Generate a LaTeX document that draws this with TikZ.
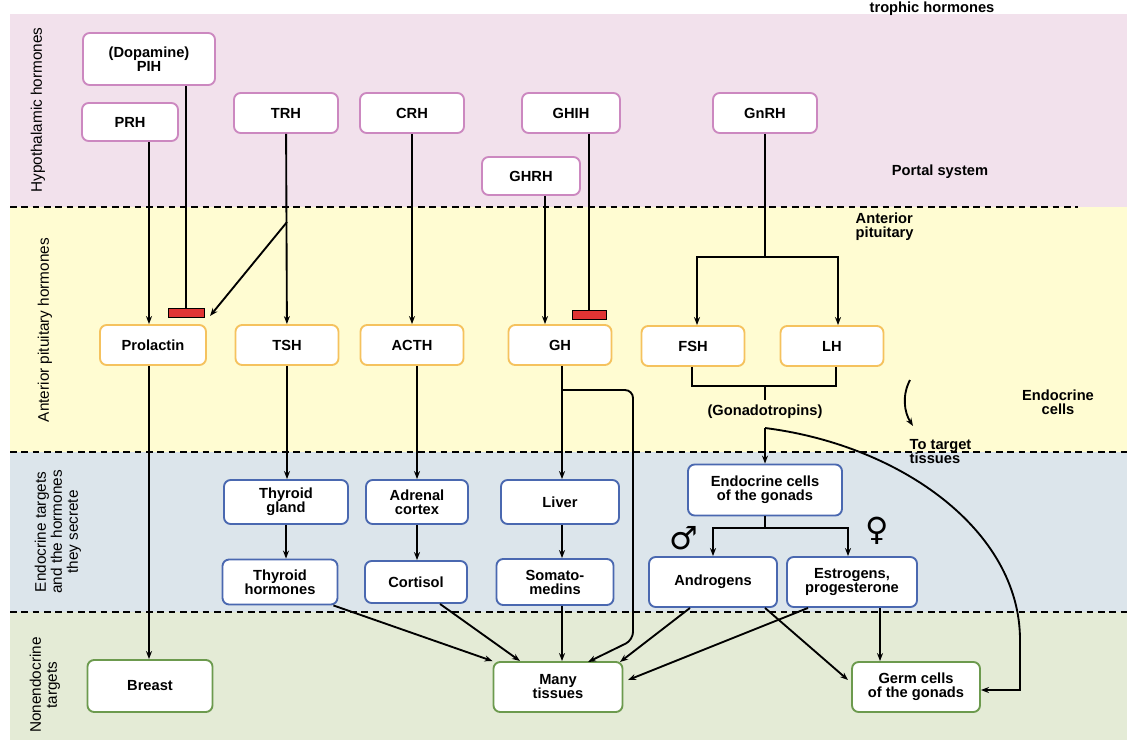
\documentclass[tikz,border=0pt]{standalone}
\usepackage{fontspec}
\setmainfont{Liberation Sans}
\newfontfamily\symfont{DejaVu Sans}
\usetikzlibrary{arrows.meta}
\definecolor{bgpink}{HTML}{F2E1EC}
\definecolor{bgyel}{HTML}{FFFCD2}
\definecolor{bgblue}{HTML}{DCE5EB}
\definecolor{bggreen}{HTML}{E4EBD6}
\definecolor{cpink}{HTML}{CC88C0}
\definecolor{cyel}{HTML}{F5C25E}
\definecolor{cblue}{HTML}{4A68B0}
\definecolor{cgreen}{HTML}{6C9A4E}
\definecolor{cred}{HTML}{E03434}
\begin{document}
\begin{tikzpicture}[x=0.75pt,y=-0.75pt,
  font=\bfseries\fontsize{11}{10.5}\selectfont,
  box/.style={draw, fill=white, rounded corners=5pt, line width=1.4pt, align=center, inner sep=1pt},
  sz/.style 2 args={minimum width=#1*0.75pt, minimum height=#2*0.75pt},
  hy/.style={box, draw=cpink},
  ap/.style={box, draw=cyel},
  et/.style={box, draw=cblue},
  nt/.style={box, draw=cgreen},
  ar/.style={-{Stealth[length=6pt,width=4.5pt]}, line width=1.4pt},
  ln/.style={line width=1.4pt},
  dsh/.style={dashed, dash pattern=on 5pt off 3.5pt, line width=1pt},
  bar/.style={draw=black, fill=cred, line width=0.7pt},
  side/.style={rotate=90, align=center, font=\fontsize{11.5}{12}\selectfont},
  lab/.style={align=center, font=\bfseries\fontsize{11}{10.5}\selectfont}]
\useasboundingbox (0,0) rectangle (1130,750);
\clip (0,0) rectangle (1130,750);
% bands
\fill[bgpink] (10,14) rectangle (1127,207);
\fill[bgyel] (10,207) rectangle (1127,452);
\fill[bgblue] (10,452) rectangle (1127,612);
\fill[bggreen] (10,612) rectangle (1127,740);
\draw[dsh] (10,207) -- (1078,207);
\draw[dsh] (10,452) -- (1127,452);
\draw[dsh] (10,612) -- (1127,612);
% side labels
\node[side] (s1) at (38,110) {Hypothalamic hormones};
\node[side] (s2) at (45,330) {Anterior pituitary hormones};
\node[side] (s3) at (58,532) {Endocrine targets\\and the hormones\\they secrete};
\node[side] (s4) at (45,685) {Nonendocrine\\targets};
% right labels
\node[lab] (t0) at (932,9) {trophic hormones};
\node[lab] (t1) at (940,172) {Portal system};
\node[lab, align=left, anchor=west] (t2) at (851,227) {Anterior\\pituitary};
\node[lab] (t3) at (1058,402) {Endocrine\\cells};
\node[lab, align=left, anchor=west] (t4) at (905,452) {To target\\tissues};
\coordinate (ca) at (910,380);
\coordinate (cb) at (913,426);
\draw[ar] (ca) .. controls (902,395) and (904,412) .. (cb);
% hypothalamic
\node[hy, sz={132}{52}] (pih) at (149,59) {(Dopamine)\\PIH};
\node[hy, sz={96}{38}] (prh) at (130,122) {PRH};
\node[hy, sz={104}{40}] (trh) at (286,113) {TRH};
\node[hy, sz={104}{40}] (crh) at (412,113) {CRH};
\node[hy, sz={98}{40}] (ghih) at (571,113) {GHIH};
\node[hy, sz={98}{38}] (ghrh) at (531,176) {GHRH};
\node[hy, sz={104}{40}] (gnrh) at (765,113) {GnRH};
% pituitary
\node[ap, sz={106}{40}] (prl) at (153,345) {Prolactin};
\node[ap, sz={103}{40}] (tsh) at (287,345) {TSH};
\node[ap, sz={103}{40}] (acth) at (412,345) {ACTH};
\node[ap, sz={103}{40}] (gh) at (560,345) {GH};
\node[ap, sz={103}{40}] (fsh) at (693,346) {FSH};
\node[ap, sz={103}{40}] (lh) at (832,346) {LH};
\node[lab] (gon) at (765,412) {(Gonadotropins)};
% endocrine targets
\node[et, sz={124}{44}] (thg) at (286,502) {Thyroid\\gland};
\node[et, sz={102}{44}] (adr) at (417,502) {Adrenal\\cortex};
\node[et, sz={118}{44}] (liv) at (560,502) {Liver};
\node[et, sz={154}{51}] (egc) at (765,490) {Endocrine cells\\of the gonads};
\node[et, sz={115}{45}] (thh) at (280,582) {Thyroid\\hormones};
\node[et, sz={102}{42}] (cor) at (416,582) {Cortisol};
\node[et, sz={117}{46}] (som) at (555,582) {Somato-\\medins};
\node[et, sz={128}{50}] (and) at (713,582) {Androgens};
\node[et, sz={130}{50}] (est) at (852,582) {Estrogens,\\progesterone};
\node[font=\symfont\fontsize{24}{24}\selectfont] (male) at (684,538) {♂};
\node[font=\symfont\fontsize{24}{24}\selectfont] (fem) at (877,531) {♀};
% nonendocrine
\node[nt, sz={125}{52}] (bre) at (150,686) {Breast};
\node[nt, sz={129}{50}] (many) at (558,687) {Many\\tissues};
\node[nt, sz={128}{50}] (germ) at (916,687) {Germ cells\\of the gonads};
% inhibition bars
\node[bar, minimum width=36*0.75pt, minimum height=9*0.75pt, inner sep=0pt] (b1) at (186,313) {};
\node[bar, minimum width=34*0.75pt, minimum height=9*0.75pt, inner sep=0pt] (b2) at (589,315) {};
% connectors
\draw[ar] (prh.south -| 149,0) -- (prl.north -| 149,0);
\draw[ln] (pih.south -| b1.north) -- (b1.north);
\draw[ar] (trh) -- (tsh);
\coordinate (trhb) at (287,222);
\draw[ar] (trhb) -- (210,316);
\draw[ar] (crh) -- (acth);
\draw[ar] (ghrh.south -| 545,0) -- (gh.north -| 545,0);
\draw[ln] (ghih.south -| b2.north) -- (b2.north);
\coordinate (gnb) at (765,257);
\draw[ln] (gnrh.south) -- (gnb);
\draw[ar] (gnb) -| (fsh.north -| 697,0);
\draw[ar] (gnb) -| (lh.north -| 838,0);
\coordinate (gj) at (765,386);
\draw[ln] (fsh.south -| 692,0) |- (gj) -| (lh.south -| 836,0);
\draw[ln] (gj) -- (gon.north);
\coordinate (gs) at (765,428);
\draw[ar] (gs) -- (egc.north);
\draw[ar] (gs) .. controls (900,445) and (1020,530) .. (1020,640) -- (1020,690) -- (germ.east |- 0,690);
\draw[ar] (prl.south -| 149,0) -- (bre.north -| 149,0);
\draw[ar] (tsh) -- (thg.north -| tsh);
\draw[ar] (thg) -- (thh.north -| thg);
\draw[ar] (acth.south -| 417,0) -- (adr);
\draw[ar] (adr) -- (cor.north -| adr);
\draw[ar] (gh.south -| 562,0) -- (liv.north -| 562,0);
\draw[ar] (liv.south -| 562,0) -- (som.north -| 562,0);
\draw[ar] (som.south -| 562,0) -- (many.north -| 562,0);
\draw[ar, rounded corners=6pt] (562,390) -- (633,390) -- (633,640) -- (588,662);
\draw[ar] (thh.south east) ++(-5,0) coordinate (q1) (q1) -- (many.north west);
\draw[ar] (cor.south -| 440,0) -- (520,661);
\draw[ar] (and.south -| 690,0) -- (620,662);
\draw[ar] (est.south -| 808,0) -- (628,680);
\draw[ar] (and.south -| 765,0) -- (848,680);
\draw[ar] (est.south -| 880,0) -- (germ.north -| 880,0);
\coordinate (ej) at (765,528);
\draw[ln] (egc.south) -- (ej);
\draw[ar] (ej) -| (and.north -| 713,0);
\draw[ar] (ej) -| (est.north -| 848,0);
\end{tikzpicture}
\end{document}
